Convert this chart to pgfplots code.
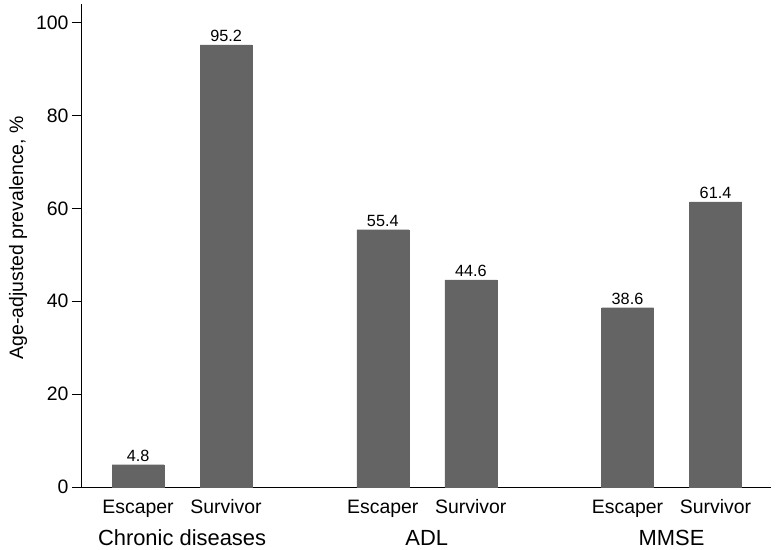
\documentclass[border=0pt]{standalone}
\usepackage{fontspec}
\setmainfont{Liberation Sans}
\usepackage{pgfplots}
\pgfplotsset{compat=1.18}
\definecolor{bargray}{RGB}{100,100,100}
\begin{document}
\begin{tikzpicture}
\useasboundingbox (0,0) rectangle (776bp,550bp);
\begin{axis}[
  at={(81bp,63bp)}, anchor=south west, scale only axis,
  width=690bp, height=483bp,
  xmin=-0.648, xmax=7.19, ymin=0, ymax=104,
  axis lines=left,
  axis line style={-, line width=0.9bp, black},
  ytick={0,20,40,60,80,100},
  ytick pos=left,
  yticklabel pos=left,
  ytick align=outside,
  major tick length=9bp,
  ytick style={line width=0.9bp, black},
  xtick style={draw=none},
  xtick={0,1,2.78,3.78,5.56,6.56},
  xticklabels={Escaper,Survivor,Escaper,Survivor,Escaper,Survivor},
  ticklabel style={font=\fontsize{19.5}{19.5}\selectfont},
  /pgf/number format/assume math mode=true,
  xticklabel style={anchor=base, yshift=-22bp},
  ylabel={Age-adjusted prevalence, \%},
  ylabel style={font=\fontsize{19.5}{19.5}\selectfont, at={(rel axis cs:-0.0913,0.516)}, anchor=center},
  clip=false,
]
\addplot[ybar, bar width=52bp, bar shift=0pt, fill=bargray, draw=bargray,
  nodes near coords,
  every node near coord/.append style={font=\fontsize{16.3}{16.3}\selectfont, black, /pgf/number format/.cd, fixed, fixed zerofill, precision=1, assume math mode=true}]
  coordinates {
  (0,4.8) (1,95.2) (2.78,55.4) (3.78,44.6) (5.56,38.6) (6.56,61.4)
};
\node[anchor=base, font=\fontsize{22}{22}\selectfont] at (axis cs:0.5,0) [yshift=-58bp] {Chronic diseases};
\node[anchor=base, font=\fontsize{22}{22}\selectfont] at (axis cs:3.28,0) [yshift=-58bp] {ADL};
\node[anchor=base, font=\fontsize{22}{22}\selectfont] at (axis cs:6.06,0) [yshift=-58bp] {MMSE};
\end{axis}
\end{tikzpicture}
\end{document}
